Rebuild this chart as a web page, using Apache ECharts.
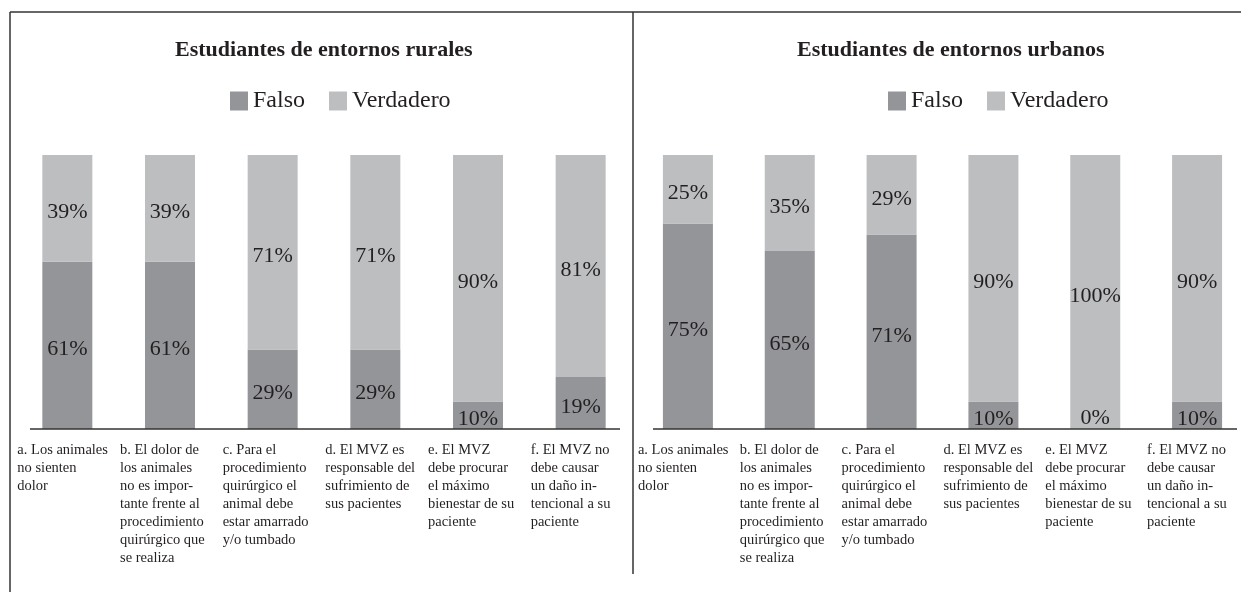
<!DOCTYPE html>
<html>
<head>
<meta charset="utf-8">
<title>Estudiantes de entornos rurales / urbanos</title>
<script src="https://cdn.jsdelivr.net/npm/echarts@6/dist/echarts.min.js"></script>
<style>
  html, body { margin: 0; padding: 0; background: #fff; }
  #main { width: 1241px; height: 592px; }
</style>
</head>
<body>
<div id="main"></div>
<script>
// data
const categories = [
  'a. Los animales\nno sienten\ndolor',
  'b. El dolor de\nlos animales\nno es impor-\ntante frente al\nprocedimiento\nquirúrgico que\nse realiza',
  'c. Para el\nprocedimiento\nquirúrgico el\nanimal debe\nestar amarrado\ny/o tumbado',
  'd. El MVZ es\nresponsable del\nsufrimiento de\nsus pacientes',
  'e. El MVZ\ndebe procurar\nel máximo\nbienestar de su\npaciente',
  'f. El MVZ no\ndebe causar\nun daño in-\ntencional a su\npaciente'
];
const panelTitles = ['Estudiantes de entornos rurales', 'Estudiantes de entornos urbanos'];
const seriesNames = ['Falso', 'Verdadero'];
const falsoRural = [61, 61, 29, 29, 10, 19];
const verdaderoRural = [39, 39, 71, 71, 90, 81];
const falsoUrbano = [75, 65, 71, 10, 0, 10];
const verdaderoUrbano = [25, 35, 29, 90, 100, 90];

const FONT = 'Liberation Serif';
const INK = '#231f20';
const DARK = '#939598';
const LIGHT = '#bcbec0';

// layout
const gridTop = 155, gridHeight = 274;
const baseY = gridTop + gridHeight;

let chart = echarts.init(document.getElementById('main'));

function xAxisFor(idx) {
  return {
    type: 'category',
    gridIndex: idx,
    data: categories,
    axisLine: { show: false },
    axisTick: { show: false },
    axisLabel: {
      interval: 0,
      margin: 12,
      hideOverlap: false,
      formatter: v => v.split('\n').map(s => '{t|' + s + '}').join('\n'),
      rich: {
        t: { width: 100, align: 'left', fontSize: 14.5, lineHeight: 18, fontFamily: FONT, color: INK }
      }
    }
  };
}

function yAxisFor(idx) {
  return { type: 'value', gridIndex: idx, min: 0, max: 100, show: false, splitLine: { show: false } };
}

function barLabel() {
  return {
    show: true,
    position: 'inside',
    offset: [0, 4],
    formatter: '{c}%',
    fontSize: 22,
    fontFamily: FONT,
    color: INK,
    textBorderWidth: 0
  };
}

function falsoData(arr) {
  // zero-height bar: put its label just above the baseline
  return arr.map(v => v === 0 ? { value: v, label: { position: 'insideBottom', distance: 0, offset: [0, 0] } } : v);
}

function barSeries(name, data, idx, stack, color) {
  return {
    name: name,
    type: 'bar',
    stack: stack,
    xAxisIndex: idx,
    yAxisIndex: idx,
    barWidth: 50,
    data: data,
    itemStyle: { color: color },
    label: barLabel(),
    emphasis: { disabled: true }
  };
}

function legendFor(left) {
  return {
    data: seriesNames,
    left: left,
    top: 84,
    icon: 'rect',
    itemWidth: 18,
    itemHeight: 19,
    itemGap: 24,
    textStyle: { fontSize: 24, fontFamily: FONT, color: INK }
  };
}

function line(x1, y1, x2, y2, w) {
  return {
    type: 'line',
    shape: { x1: x1, y1: y1, x2: x2, y2: y2 },
    style: { stroke: '#333', lineWidth: w || 1.5 },
    z: 100
  };
}

chart.setOption({
  backgroundColor: '#fff',
  animation: false,
  title: [
    { text: panelTitles[0], left: 170, top: 34, textStyle: { fontSize: 22, fontWeight: 'bold', fontFamily: FONT, color: INK } },
    { text: panelTitles[1], left: 792, top: 34, textStyle: { fontSize: 22, fontWeight: 'bold', fontFamily: FONT, color: INK } }
  ],
  legend: [legendFor(225), legendFor(883)],
  grid: [
    { left: 16, width: 616, top: gridTop, height: gridHeight, outerBoundsMode: 'none' },
    { left: 637, width: 611, top: gridTop, height: gridHeight, outerBoundsMode: 'none' }
  ],
  xAxis: [xAxisFor(0), xAxisFor(1)],
  yAxis: [yAxisFor(0), yAxisFor(1)],
  series: [
    barSeries(seriesNames[0], falsoData(falsoRural), 0, 'rural', DARK),
    barSeries(seriesNames[1], verdaderoRural, 0, 'rural', LIGHT),
    barSeries(seriesNames[0], falsoData(falsoUrbano), 1, 'urbano', DARK),
    barSeries(seriesNames[1], verdaderoUrbano, 1, 'urbano', LIGHT)
  ],
  graphic: [
    line(10, 12, 1241, 12),
    line(10, 12, 10, 592),
    line(633, 12, 633, 574),
    line(30, baseY, 620, baseY),
    line(653, baseY, 1237, baseY)
  ]
});
</script>
</body>
</html>
